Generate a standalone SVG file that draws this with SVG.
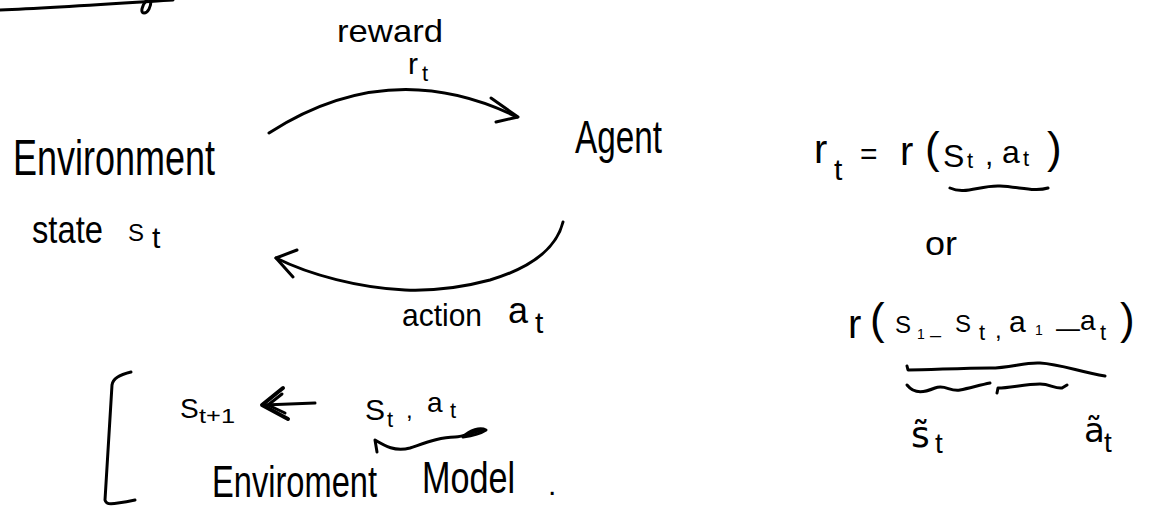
<svg xmlns="http://www.w3.org/2000/svg" width="1155" height="512" viewBox="0 0 1155 512">
<style>
  text { font-family: "Liberation Sans", Arial, sans-serif; fill: #000; }
  .dj { font-family: "DejaVu Sans", "Liberation Sans", sans-serif; }
  .ink { fill: none; stroke: #000; stroke-width: 3; stroke-linecap: round; stroke-linejoin: round; }
  .thick { stroke-width: 4; }
</style>
<rect width="1155" height="512" fill="#fff"/>

<!-- top-left stray stroke -->
<g id="top-stroke">
  <path class="ink" d="M0,10 C 50,8 110,4 173,0"/>
  <path class="ink" d="M151,0 C 151,7 148,13 144,13 C 140,13 142,5 147,0"/>
</g>

<!-- nodes -->
<g id="node-environment">
  <text x="13" y="175" font-size="50" textLength="202" lengthAdjust="spacingAndGlyphs">Environment</text>
</g>
<g id="node-state">
  <text x="32" y="243" font-size="38" textLength="71" lengthAdjust="spacingAndGlyphs">state</text>
  <text x="128" y="241" font-size="24">S</text>
  <text x="152" y="248" font-size="30">t</text>
</g>
<g id="node-agent">
  <text x="575" y="153" font-size="46" textLength="87" lengthAdjust="spacingAndGlyphs">Agent</text>
</g>

<!-- connectors -->
<g id="connectors">
  <path class="ink" d="M269,133 Q 390,55 517,117"/>
  <path class="ink" d="M491,98 L518,117 L496,122"/>
  <path class="ink" d="M563,222 C 556,250 530,268 490,280 C 460,288 430,291 405,290 C 360,288 310,275 276,258"/>
  <path class="ink" d="M297,250 L276,258 L293,277"/>
  <path class="ink" d="M315,403 L264,405"/>
  <path class="ink thick" d="M283,388 L262,405 L288,419"/>
  <path class="ink" d="M282,394 L268,405 L285,413"/>
</g>

<!-- edge labels -->
<g id="label-reward">
  <text x="337" y="42" font-size="32" textLength="106" lengthAdjust="spacingAndGlyphs">reward</text>
  <text x="408" y="74" font-size="30">r</text>
  <text x="422" y="81" font-size="22">t</text>
</g>
<g id="label-action">
  <text x="402" y="326" font-size="32" textLength="80" lengthAdjust="spacingAndGlyphs">action</text>
  <text x="508" y="323" font-size="36">a</text>
  <text x="535" y="333" font-size="30">t</text>
</g>

<!-- reward formula -->
<g id="formula-reward">
  <text x="814" y="163" font-size="40">r</text>
  <text x="834" y="180" font-size="30">t</text>
  <text x="860" y="164" font-size="30">=</text>
  <text x="900" y="165" font-size="40">r</text>
  <text x="925" y="163" font-size="44">(</text>
  <text x="943" y="167" font-size="32">S</text>
  <text x="967" y="168" font-size="22">t</text>
  <text x="985" y="165" font-size="30">,</text>
  <text x="1002" y="163" font-size="32">a</text>
  <text x="1023" y="166" font-size="22">t</text>
  <text x="1047" y="163" font-size="44">)</text>
  <path class="ink" d="M950,188 C 965,195 980,185 1000,186 C 1020,187 1035,192 1048,188"/>
</g>
<g id="label-or">
  <text x="925" y="255" font-size="34" textLength="32" lengthAdjust="spacingAndGlyphs">or</text>
</g>
<g id="formula-history">
  <text x="848" y="338" font-size="40">r</text>
  <text x="870" y="334" font-size="44">(</text>
  <text x="895" y="333" font-size="24">S</text>
  <text x="917" y="339" font-size="14">1</text>
  <text x="930" y="342" font-size="20">–</text>
  <text x="955" y="332" font-size="24">S</text>
  <text x="979" y="340" font-size="22">t</text>
  <text x="995" y="338" font-size="24">,</text>
  <text x="1009" y="332" font-size="30">a</text>
  <text x="1035" y="335" font-size="14">1</text>
  <text x="1056" y="337" font-size="28" textLength="24" lengthAdjust="spacingAndGlyphs">–</text>
  <text x="1080" y="330" font-size="28">a</text>
  <text x="1100" y="340" font-size="22">t</text>
  <text x="1120" y="334" font-size="44">)</text>
  <path class="ink" d="M907,366 L908,370 C 930,370 960,368 990,368 C 1010,368 1025,362 1040,363 C 1060,364 1080,372 1105,376"/>
  <path class="ink" d="M907,385 C 915,395 925,392 935,388 C 945,384 950,392 960,390 C 970,388 980,385 990,383"/>
  <path class="ink" d="M997,393 L998,388 C 1010,388 1025,384 1040,384 C 1050,384 1055,389 1062,388 L1067,385"/>
  <text class="dj" x="911" y="447" font-size="36">s&#771;</text>
  <text x="935" y="453" font-size="28">t</text>
  <text class="dj" x="1084" y="442" font-size="34">ã</text>
  <text x="1104" y="452" font-size="28">t</text>
</g>

<!-- environment model -->
<g id="env-model">
  <path class="ink" d="M131,372 C 122,374 113,377 112,385 L 105,500 C 106,505 110,505 135,500"/>
  <text x="180" y="418" font-size="28">S</text>
  <text x="199" y="423" font-size="20" textLength="36" lengthAdjust="spacingAndGlyphs">t+1</text>
  <text x="365" y="420" font-size="30">S</text>
  <text x="387" y="427" font-size="22">t</text>
  <text x="406" y="418" font-size="24">,</text>
  <text x="427" y="412" font-size="28">a</text>
  <text x="450" y="418" font-size="22">t</text>
  <path class="ink" d="M377,452 L375,440 C 385,446 395,452 410,448 C 425,443 440,437 455,437 C 465,437 470,432 483,430"/>
  <path class="ink" d="M463,437 C 470,430 480,427 486,430 C 480,434 470,436 463,437"/>
  <text x="212" y="497" font-size="44" textLength="165" lengthAdjust="spacingAndGlyphs">Enviroment</text>
  <text x="422" y="493" font-size="44" textLength="93" lengthAdjust="spacingAndGlyphs">Model</text>
  <text x="548" y="495" font-size="30">.</text>
</g>
</svg>
